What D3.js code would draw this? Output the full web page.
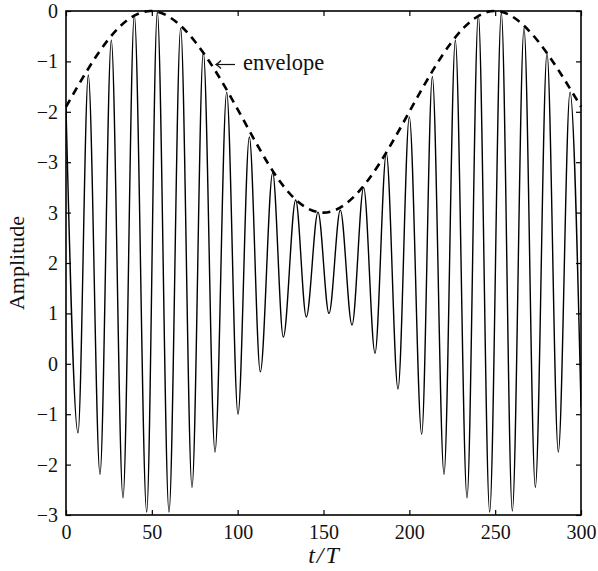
<!DOCTYPE html>
<html>
<head>
<meta charset="utf-8">
<script src="https://cdn.jsdelivr.net/npm/d3@7"></script>
<style>
  body{margin:0;background:#fff;}
  svg text{font-family:"Liberation Serif","Times New Roman",serif;fill:#111;}
</style>
</head>
<body>
<div id="grafico"></div>
<script>
// tempos e valores dos extremos (picos e vales alternados)
const tempos = [0, 7.0, 13.0, 19.8, 26.4, 33.2, 39.8, 47.0, 53.2, 60.0, 66.8, 73.4, 80.0,
  86.8, 93.6, 100.2, 106.8, 113.2, 120.4, 126.6, 133.8, 140.0, 146.8, 153.2, 159.8,
  166.6, 173.4, 180.0, 186.6, 193.4, 200.0, 207.2, 213.4, 220.2, 226.8, 233.6, 240.2,
  246.8, 253.6, 260.0, 266.8, 273.4, 280.2, 286.8, 293.6, 300];
const amplitude = [5.1, -1.37, 5.73, -2.19, 6.42, -2.66, 6.92, -2.94, 6.98, -2.94, 6.66, -2.45, 6.19,
  -1.75, 5.39, -1.0, 4.5, -0.16, 3.79, 0.53, 3.25, 0.93, 3.01, 1.0, 3.05,
  0.77, 3.5, 0.21, 4.18, -0.5, 4.9, -1.4, 5.7, -2.19, 6.42, -2.66, 6.92,
  -2.94, 6.96, -2.92, 6.66, -2.45, 6.17, -1.75, 5.39, -0.86];

// envoltória tracejada
const tEnv = [0, 25, 50, 75, 100, 125, 150, 175, 200, 225, 250, 275, 300];
const envoltoria = [5.1, 6.45, 7.0, 6.4, 5.05, 3.6, 3.0, 3.6, 5.0, 6.4, 7.0, 6.4, 5.1];

// marcas dos eixos
const xTicks = [0, 50, 100, 150, 200, 250, 300];
const yTicks = [-3, -2, -1, 0, 1, 2, 3, 4, 5, 6, 7];
const yRotulos = ["\u22123", "\u22122", "\u22121", "0", "1", "2", "3", "\u22123", "\u22122", "\u22121", "0"];

const largura = 598, altura = 571;
const esq = 66, dir = 581, topo = 11, base = 515;

const svg = d3.select('#grafico').append('svg')
  .attr('width', largura).attr('height', altura);

const x = d3.scaleLinear().domain([0, 300]).range([esq, dir]);
const y = d3.scaleLinear().domain([-3, 7]).range([base, topo]);

svg.append('clipPath').attr('id', 'area')
  .append('rect').attr('x', esq).attr('y', topo - 2)
  .attr('width', dir - esq).attr('height', base - topo + 2);

const linha = d3.line()
  .x((d, i) => x(tempos[i]))
  .y(d => y(d))
  .curve(d3.curveMonotoneX);

svg.append('path')
  .attr('d', linha(amplitude))
  .attr('fill', 'none')
  .attr('stroke', '#000')
  .attr('stroke-width', 1.4)
  .attr('clip-path', 'url(#area)');

const linhaEnv = d3.line()
  .x((d, i) => x(tEnv[i]))
  .y(d => y(d))
  .curve(d3.curveNatural);

svg.append('path')
  .attr('d', linhaEnv(envoltoria))
  .attr('fill', 'none')
  .attr('stroke', '#000')
  .attr('stroke-width', 2.6)
  .attr('stroke-dasharray', '8,6');

// eixos com ticks para dentro
const eixoB = d3.axisBottom(x).tickValues(xTicks).tickSize(-5).tickPadding(10).tickFormat(d3.format('d'));
const eixoT = d3.axisTop(x).tickValues(xTicks).tickSize(-5).tickFormat('');
const eixoE = d3.axisLeft(y).tickValues(yTicks).tickSize(-5).tickPadding(8)
  .tickFormat((d, i) => yRotulos[i]);
const eixoD = d3.axisRight(y).tickValues(yTicks).tickSize(-5).tickFormat('');

const gB = svg.append('g').attr('transform', `translate(0,${base})`).call(eixoB);
const gT = svg.append('g').attr('transform', `translate(0,${topo})`).call(eixoT);
const gE = svg.append('g').attr('transform', `translate(${esq},0)`).call(eixoE);
const gD = svg.append('g').attr('transform', `translate(${dir},0)`).call(eixoD);

for (const g of [gB, gT, gE, gD]) {
  g.select('.domain').remove();
  g.selectAll('line').attr('stroke', '#000').attr('stroke-width', 1.2);
  g.selectAll('text').attr('font-size', 20).attr('font-family', '"Liberation Serif",serif').attr('fill', '#111');
}

svg.append('rect')
  .attr('x', esq).attr('y', topo)
  .attr('width', dir - esq).attr('height', base - topo)
  .attr('fill', 'none').attr('stroke', '#000').attr('stroke-width', 1.6);

// rótulos
svg.append('text')
  .attr('transform', `translate(24,${(topo + base) / 2}) rotate(-90)`)
  .attr('text-anchor', 'middle')
  .attr('font-size', 22)
  .text('Amplitude');

svg.append('text')
  .attr('x', x(150) + 1).attr('y', 563)
  .attr('text-anchor', 'middle')
  .attr('font-size', 24)
  .attr('font-style', 'italic')
  .attr('letter-spacing', 2)
  .text('t/T');

// seta da anotação
const seta = svg.append('g').attr('stroke', '#111').attr('stroke-width', 1.2).attr('fill', 'none');
seta.append('line').attr('x1', 216).attr('y1', 64.5).attr('x2', 235).attr('y2', 64.5);
seta.append('path').attr('d', 'M221,60.5 Q218,63.5 216,64.5 Q218,65.5 221,68.5');

svg.append('text')
  .attr('x', 243).attr('y', 70)
  .attr('font-size', 22.5)
  .text('envelope');
</script>
</body>
</html>
